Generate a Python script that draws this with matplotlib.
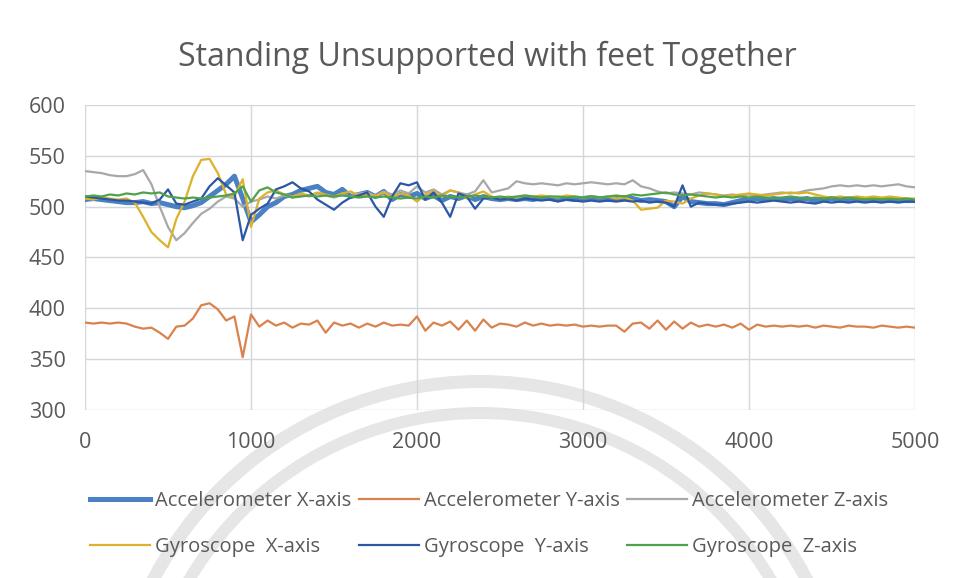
import numpy as np
import matplotlib.pyplot as plt
from matplotlib.patches import Wedge
from matplotlib.transforms import IdentityTransform

# sample index, every 50 samples
samples = np.arange(0, 5001, 50)

acc_x = [507, 508, 507, 506, 505, 504, 504, 505, 503, 504, 502, 500, 499, 501, 504, 510, 516, 522, 530, 508,
         485, 492, 500, 504, 510, 512, 516, 518, 520, 514, 512, 517, 510, 512, 514, 510, 515, 507, 512, 510,
         513, 508, 511, 506, 510, 508, 511, 507, 510, 508, 507, 508, 507, 508, 507, 509, 508, 507, 508, 507,
         508, 509, 508, 507, 508, 509, 508, 506, 507, 506, 505, 500, 510, 505, 504, 503, 503, 502, 504, 506,
         507, 508, 507, 508, 507, 508, 507, 508, 506, 507, 508, 506, 507, 508, 507, 506, 507, 506, 507, 506,
         506]
acc_y = [386, 385, 386, 385, 386, 385, 382, 380, 381, 376, 370, 382, 383, 390, 403, 405, 399, 388, 392, 352,
         394, 382, 388, 383, 386, 381, 385, 384, 388, 376, 386, 383, 385, 381, 385, 382, 386, 383, 384, 383,
         392, 378, 386, 383, 387, 379, 388, 378, 389, 381, 385, 384, 382, 386, 383, 385, 383, 384, 383, 384,
         382, 383, 382, 383, 383, 377, 385, 386, 380, 388, 379, 387, 380, 386, 382, 384, 382, 384, 381, 385,
         379, 384, 382, 383, 382, 383, 382, 383, 381, 383, 382, 381, 383, 382, 382, 381, 383, 382, 381, 382,
         381]
acc_z = [535, 534, 533, 531, 530, 530, 532, 536, 522, 500, 480, 467, 474, 484, 493, 498, 505, 510, 508, 500,
         505, 507, 510, 508, 511, 509, 512, 510, 513, 511, 509, 512, 510, 513, 514, 511, 515, 512, 516, 513,
         520, 514, 517, 512, 516, 514, 512, 515, 526, 514, 516, 518, 525, 523, 522, 523, 522, 521, 523, 522,
         523, 524, 523, 522, 523, 522, 526, 520, 518, 515, 513, 514, 513, 512, 514, 513, 512, 511, 512, 511,
         512, 511, 512, 513, 514, 513, 514, 516, 517, 518, 520, 521, 520, 521, 520, 521, 520, 521, 522, 520,
         519]
gyro_x = [508, 507, 509, 508, 507, 508, 504, 490, 475, 467, 460, 488, 505, 530, 546, 547, 533, 512, 510, 527,
          480, 508, 514, 516, 512, 510, 513, 511, 514, 512, 510, 513, 515, 511, 512, 510, 514, 509, 513, 511,
          505, 512, 515, 510, 516, 514, 508, 512, 515, 510, 508, 510, 509, 511, 510, 511, 510, 509, 511, 510,
          509, 510, 509, 510, 508, 509, 506, 497, 498, 499, 506, 505, 503, 508, 511, 513, 512, 510, 511, 512,
          513, 512, 511, 512, 513, 514, 513, 514, 512, 510, 509, 510, 509, 510, 509, 510, 509, 510, 509, 508,
          508]
gyro_y = [510, 509, 508, 507, 506, 506, 505, 504, 503, 507, 517, 503, 502, 505, 508, 520, 528, 521, 514, 467,
          492, 498, 503, 517, 520, 524, 518, 515, 507, 502, 497, 504, 509, 511, 514, 500, 490, 510, 523, 521,
          524, 507, 514, 504, 490, 513, 510, 498, 508, 509, 507, 508, 506, 508, 507, 506, 507, 505, 507, 506,
          505, 506, 505, 506, 505, 506, 505, 506, 504, 505, 504, 500, 521, 500, 504, 503, 502, 502, 503, 504,
          505, 504, 505, 506, 505, 504, 505, 504, 503, 505, 504, 505, 504, 505, 504, 505, 504, 505, 504, 505,
          505]
gyro_z = [510, 511, 510, 512, 511, 513, 512, 514, 513, 514, 510, 509, 508, 509, 508, 509, 510, 511, 513, 520,
          505, 516, 519, 514, 512, 509, 510, 511, 510, 511, 510, 511, 510, 509, 510, 509, 510, 509, 508, 509,
          508, 510, 509, 511, 510, 509, 510, 511, 510, 509, 510, 509, 510, 511, 510, 509, 510, 510, 509, 510,
          509, 510, 509, 510, 511, 510, 512, 511, 512, 513, 514, 512, 511, 512, 511, 510, 509, 510, 509, 510,
          509, 510, 509, 508, 509, 510, 509, 508, 509, 508, 509, 508, 509, 508, 507, 508, 507, 508, 507, 508,
          507]

series = [
    ("Accelerometer X-axis", acc_x, "#4A80C4", 3.6),
    ("Accelerometer Y-axis", acc_y, "#D9824E", 1.6),
    ("Accelerometer Z-axis", acc_z, "#A8A8A8", 1.6),
    ("Gyroscope  X-axis", gyro_x, "#DDB22A", 1.6),
    ("Gyroscope  Y-axis", gyro_y, "#2B57A4", 1.6),
    ("Gyroscope  Z-axis", gyro_z, "#4FA24A", 1.6),
]

plt.rcParams['font.family'] = ['Open Sans', 'DejaVu Sans']
text_color = "#595959"

fig = plt.figure(figsize=(9.61, 5.78), dpi=100)

# faint seal rings behind the chart (pixel coordinates)
for r, w in [(375, 13), (343, 12)]:
    fig.patches.append(Wedge((480, -172), r, 0, 180, width=w, transform=IdentityTransform(),
                             facecolor="#E6E6E6", edgecolor="none", zorder=-5))

ax = fig.add_axes([0.0885, 0.2907, 0.8635, 0.5276])
ax.patch.set_alpha(0)

lines = []
for name, values, color, lw in series:
    ln, = ax.plot(samples, values, color=color, lw=lw, label=name, solid_joinstyle='round')
    lines.append(ln)

ax.set_xlim(0, 5000)
ax.set_ylim(300, 600)
ax.set_xticks(range(0, 5001, 1000))
ax.set_yticks(range(300, 601, 50))
ax.grid(True, color="#D3D6DB", lw=1.0)
ax.set_axisbelow(True)
for s in ax.spines.values():
    s.set_visible(False)
ax.tick_params(length=0, colors=text_color, labelsize=15.5)
ax.tick_params(axis='x', pad=16)
ax.tick_params(axis='y', pad=14)

fig.text(0.507, 0.9, "Standing Unsupported with feet Together", ha='center', va='center',
         fontsize=23, color=text_color)

# legend is filled column by column, so reorder for row-wise reading
order = [0, 3, 1, 4, 2, 5]
fig.legend([lines[i] for i in order], [series[i][0] for i in order],
           loc='upper left', bbox_to_anchor=(0.083, 0.168), ncol=3, frameon=False,
           fontsize=14.5, labelcolor=text_color, handlelength=3.0, handletextpad=0.25,
           columnspacing=0.35, labelspacing=1.3, borderpad=0)

fig.savefig("out.png", dpi=100)
